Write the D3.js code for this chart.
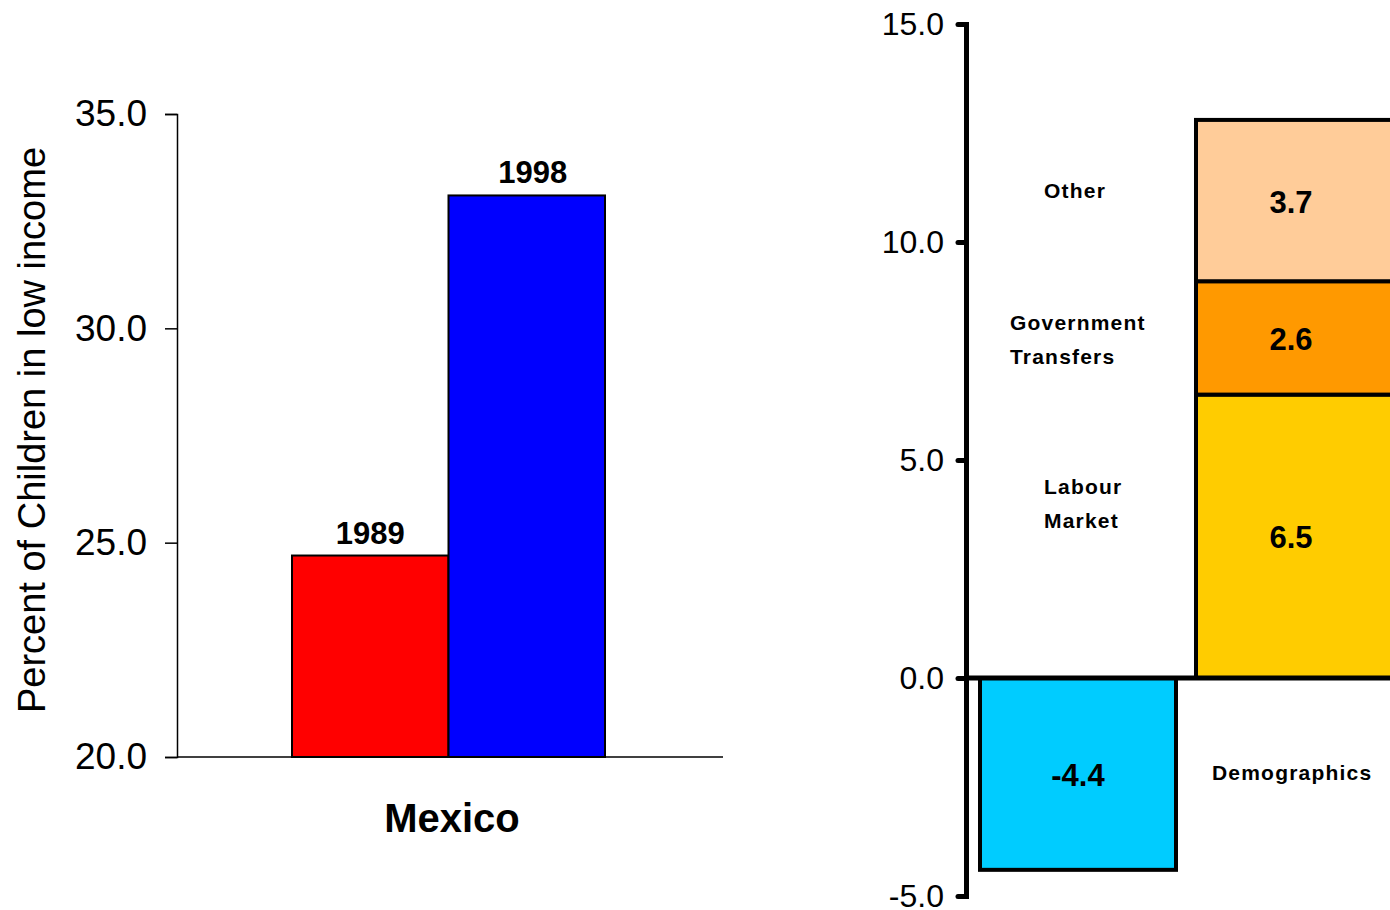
<!DOCTYPE html>
<html>
<head>
<meta charset="utf-8">
<script src="https://cdn.jsdelivr.net/npm/d3@7/dist/d3.min.js"></script>
<style>
  html, body { margin: 0; padding: 0; background: #fff; }
  svg text { font-family: Arial, "Liberation Sans", sans-serif; }
</style>
</head>
<body>
<svg id="chart" width="1390" height="910"></svg>
<script>
// Left panel: share of children in low income, Mexico
const years = ["1989", "1998"];
const lowIncomeShare = [24.7, 33.1];
const yearColors = ["#FF0000", "#0000FF"];
const leftTicks = [20, 25, 30, 35];

// Right panel: decomposition of the change
const components = ["Labour Market", "Government Transfers", "Other"];
const componentValues = [6.5, 2.6, 3.7];
const componentColors = ["#FFCC00", "#FF9900", "#FFCC99"];
const demographicsValue = -4.4;
const demographicsColor = "#00CCFF";
const rightTicks = [-5, 0, 5, 10, 15];

// plain hyphen for negatives, one decimal
const fmt = v => v.toFixed(1);

const svg = d3.select("#chart");

// ---------- left panel ----------
const yL = d3.scaleLinear().domain([20, 35]).range([757, 114]);
const xL = d3.scaleBand().domain(years).range([292, 605]).padding(0);

const left = svg.append("g");
left.append("g")
  .attr("transform", "translate(177,0)")
  .call(d3.axisLeft(yL).tickValues(leftTicks).tickFormat(fmt).tickSize(12).tickPadding(18))
  .call(g => g.select(".domain").attr("stroke-width", 1.5))
  .call(g => g.selectAll(".tick line").attr("stroke-width", 1.5))
  .call(g => g.selectAll(".tick text").attr("font-size", 37).attr("fill", "#000"));

left.append("line")
  .attr("x1", 177).attr("x2", 723)
  .attr("y1", yL(20)).attr("y2", yL(20))
  .attr("stroke", "#000").attr("stroke-width", 1.5);

left.selectAll("rect.bar")
  .data(years)
  .join("rect")
  .attr("class", "bar")
  .attr("x", d => xL(d))
  .attr("width", xL.bandwidth())
  .attr("y", (d, i) => yL(lowIncomeShare[i]))
  .attr("height", (d, i) => yL(20) - yL(lowIncomeShare[i]))
  .attr("fill", (d, i) => yearColors[i])
  .attr("stroke", "#000").attr("stroke-width", 2);

left.selectAll("text.year")
  .data(years)
  .join("text")
  .attr("class", "year")
  .attr("x", (d, i) => xL(d) + xL.bandwidth() / 2 + (i === 0 ? 0 : 6))
  .attr("y", (d, i) => yL(lowIncomeShare[i]) - 12)
  .attr("text-anchor", "middle")
  .attr("font-size", 31).attr("font-weight", "bold")
  .text(d => d);

left.append("text")
  .attr("x", 452).attr("y", 832)
  .attr("text-anchor", "middle")
  .attr("font-size", 40).attr("font-weight", "bold")
  .text("Mexico");

left.append("text")
  .attr("transform", "translate(45,430) rotate(-90)")
  .attr("text-anchor", "middle")
  .attr("font-size", 38)
  .text("Percent of Children in low income");

// ---------- right panel ----------
const yR = d3.scaleLinear().domain([-5, 15]).range([896, 24]);
const axisX = 966;

const right = svg.append("g");

// stacked positive components
let base = 0;
const stacked = componentValues.map((v, i) => {
  const s = { name: components[i], value: v, y0: base, y1: base + v, color: componentColors[i] };
  base += v;
  return s;
});

right.selectAll("rect.seg")
  .data(stacked)
  .join("rect")
  .attr("class", "seg")
  .attr("x", 1196).attr("width", 196)
  .attr("y", d => yR(d.y1))
  .attr("height", d => yR(d.y0) - yR(d.y1))
  .attr("fill", d => d.color)
  .attr("stroke", "#000").attr("stroke-width", 4);

right.selectAll("text.segval")
  .data(stacked)
  .join("text")
  .attr("class", "segval")
  .attr("x", 1291)
  .attr("y", d => yR((d.y0 + d.y1) / 2) + 12)
  .attr("text-anchor", "middle")
  .attr("font-size", 31).attr("font-weight", "bold")
  .text(d => fmt(d.value));

// negative component
right.append("rect")
  .attr("x", 980).attr("width", 196)
  .attr("y", yR(0))
  .attr("height", yR(demographicsValue) - yR(0))
  .attr("fill", demographicsColor)
  .attr("stroke", "#000").attr("stroke-width", 4);

right.append("text")
  .attr("x", 1078).attr("y", yR(demographicsValue / 2) + 12)
  .attr("text-anchor", "middle")
  .attr("font-size", 31).attr("font-weight", "bold")
  .text(fmt(demographicsValue));

// zero line
right.append("line")
  .attr("x1", axisX).attr("x2", 1390)
  .attr("y1", yR(0)).attr("y2", yR(0))
  .attr("stroke", "#000").attr("stroke-width", 5);

// axis
right.append("g")
  .attr("transform", `translate(${axisX},0)`)
  .call(d3.axisLeft(yR).tickValues(rightTicks).tickFormat(fmt).tickSize(8).tickPadding(14))
  .call(g => g.select(".domain").attr("stroke-width", 5))
  .call(g => g.selectAll(".tick line").attr("stroke-width", 5).attr("stroke-linecap", "round"))
  .call(g => g.selectAll(".tick text").attr("font-size", 32).attr("fill", "#000"));

// component names
const catLabels = [
  { lines: ["Other"], x: 1044, y: 198 },
  { lines: ["Government", "Transfers"], x: 1010, y: 330 },
  { lines: ["Labour", "Market"], x: 1044, y: 494 },
  { lines: ["Demographics"], x: 1212, y: 780 }
];
catLabels.forEach(l => {
  const t = right.append("text")
    .attr("x", l.x).attr("y", l.y)
    .attr("font-size", 21).attr("font-weight", "bold")
    .attr("letter-spacing", 1.2);
  l.lines.forEach((s, i) => {
    t.append("tspan").attr("x", l.x).attr("dy", i === 0 ? 0 : 34).text(s);
  });
});
</script>
</body>
</html>
